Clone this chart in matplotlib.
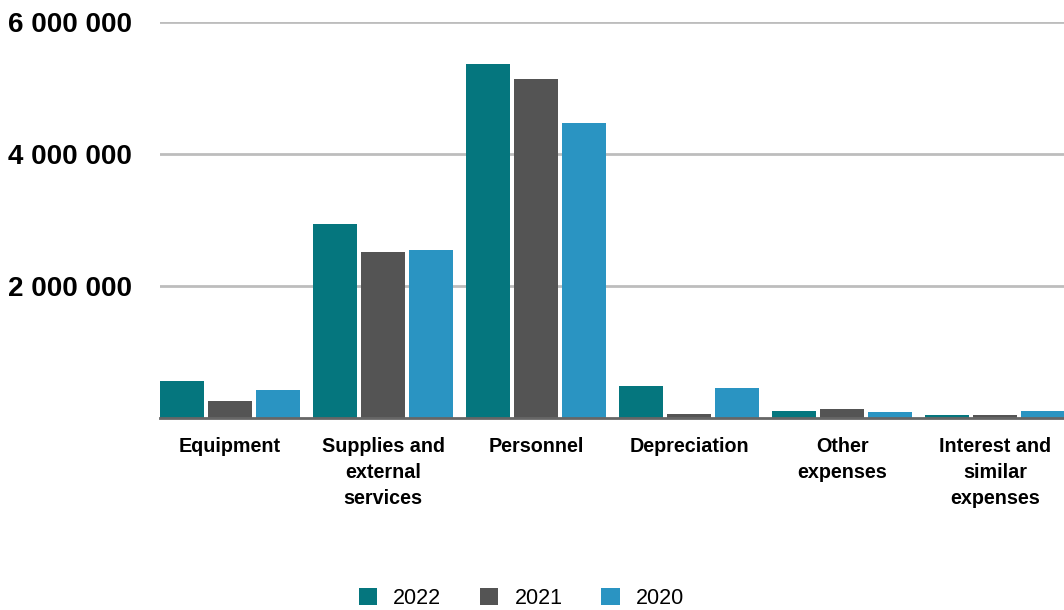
import numpy as np
import matplotlib
matplotlib.use("Agg")
import matplotlib.pyplot as plt

plt.rcParams['font.family'] = ['Liberation Sans', 'DejaVu Sans']

categories = ["Equipment", "Supplies and\nexternal\nservices", "Personnel",
              "Depreciation", "Other\nexpenses", "Interest and\nsimilar\nexpenses"]
years = ["2022", "2021", "2020"]
values_2022 = [560000, 2940000, 5360000, 480000, 110000, 50000]
values_2021 = [260000, 2520000, 5140000, 60000, 130000, 40000]
values_2020 = [430000, 2550000, 4470000, 450000, 90000, 110000]
colors = ["#05767E", "#545454", "#2A94C2"]
yticks = [2000000, 4000000, 6000000]

fig = plt.figure(figsize=(10.64, 6.10), dpi=100)
ax = fig.add_axes([160 / 1064, 1 - 418 / 610, 1 - 160 / 1064, (418 - 22) / 610])

x = np.arange(len(categories))
step = 48 / 153
width = 44 / 153
series = [values_2022, values_2021, values_2020]
for k, (vals, col, yr) in enumerate(zip(series, colors, years)):
    ax.bar(x + (k - 1) * step, vals, width, color=col, label=yr, zorder=3)

ax.set_xlim(-0.458, 5.45)
ax.set_ylim(0, 6000000)
ax.set_yticks(yticks)
ax.set_yticklabels([f"{v:,}".replace(",", " ") for v in yticks],
                   fontsize=20, fontweight='bold')
ax.yaxis.grid(True, color="#BDBDBD", linewidth=2, zorder=0)
ax.tick_params(axis='y', length=0, pad=20)
ax.set_xticks(x)
ax.set_xticklabels(categories, fontsize=14.2, fontweight='bold', linespacing=1.45)
ax.tick_params(axis='x', length=0, pad=14)
for s in ["top", "right", "left"]:
    ax.spines[s].set_visible(False)
ax.spines["bottom"].set_color("#666666")
ax.spines["bottom"].set_linewidth(2)
ax.spines["bottom"].set_zorder(4)

fig.legend(loc="lower center", bbox_to_anchor=(0.49, -0.03), ncol=3, frameon=False,
           fontsize=15.5, handlelength=0.85, handleheight=0.85, columnspacing=1.8,
           handletextpad=0.75)

fig.savefig("out.png", dpi=100)
